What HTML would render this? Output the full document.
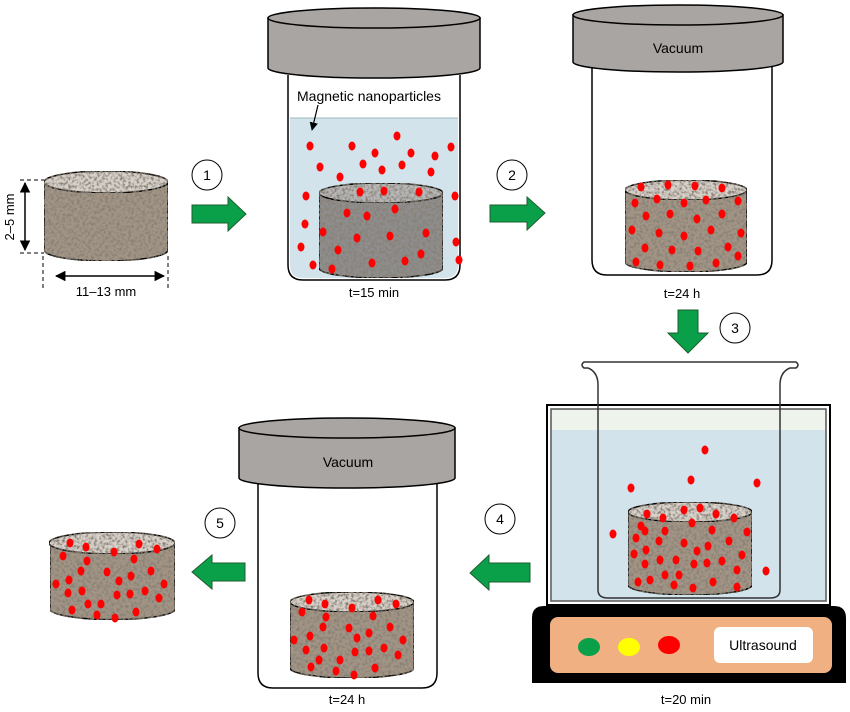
<!DOCTYPE html>
<html><head><meta charset="utf-8"><style>
html,body{margin:0;padding:0;background:#fff;}
svg{display:block;font-family:"Liberation Sans",Arial,sans-serif;}
.d{fill:#ff0000;}
</style></head><body>
<svg width="850" height="712" viewBox="0 0 850 712" xmlns="http://www.w3.org/2000/svg">
<defs>
<filter id="tex" x="0" y="0" width="100%" height="100%">
<feTurbulence type="fractalNoise" baseFrequency="0.35" numOctaves="3" seed="3" result="n"/>
<feColorMatrix in="n" type="matrix" values="0 0 0 0 0.25  0 0 0 0 0.22  0 0 0 0 0.18  0 0 0 -3 1.8" result="c"/>
<feComposite in="c" in2="SourceGraphic" operator="in" result="d"/>
<feMerge><feMergeNode in="SourceGraphic"/><feMergeNode in="d"/></feMerge>
</filter>
<marker id="ah" viewBox="0 0 10 10" refX="9" refY="5" markerWidth="7" markerHeight="7" orient="auto-start-reverse"><path d="M0,0 L10,5 L0,10 z" fill="#000"/></marker>
</defs>

<!-- Stage 0 cylinder -->
<g stroke="#000" stroke-width="1.5">
<path d="M44,182 L44,250 A62,11 0 0 0 168,250 L168,182 Z" fill="#a39586" filter="url(#tex)"/>
<ellipse cx="106" cy="182" rx="62" ry="11" fill="#d8d2cb" filter="url(#tex)"/>
</g>
<g stroke="#000" stroke-width="1" stroke-dasharray="4,3" fill="none">
<line x1="20" y1="180" x2="44" y2="180"/><line x1="20" y1="253" x2="44" y2="253"/>
<line x1="43" y1="256" x2="43" y2="288"/><line x1="168" y1="256" x2="168" y2="288"/>
</g>
<line x1="25" y1="183" x2="25" y2="250" stroke="#000" stroke-width="1.5" marker-start="url(#ah)" marker-end="url(#ah)"/>
<line x1="56" y1="276" x2="164" y2="276" stroke="#000" stroke-width="1.5" marker-start="url(#ah)" marker-end="url(#ah)"/>
<text x="14" y="217" font-size="13" text-anchor="middle" transform="rotate(-90 14 217)">2–5 mm</text>
<text x="106" y="296" font-size="13" text-anchor="middle">11–13 mm</text>

<!-- step circles -->
<g fill="#fff" stroke="#000" stroke-width="1">
<circle cx="207" cy="175" r="15"/><circle cx="512" cy="175" r="15"/><circle cx="735" cy="328" r="15"/><circle cx="500" cy="519" r="15"/><circle cx="220" cy="523" r="15"/>
</g>
<g font-size="14" text-anchor="middle">
<text x="207" y="180">1</text><text x="512" y="180">2</text><text x="735" y="333">3</text><text x="500" y="524">4</text><text x="220" y="528">5</text>
</g>

<!-- green arrows -->
<g fill="#0aa04a" stroke="#1f5e2e" stroke-width="1">
<path d="M192,205 L228,205 L228,197 L246,214 L228,231 L228,223 L192,223 Z"/>
<path d="M490,205 L527,205 L527,197 L545,213 L527,230 L527,222 L490,222 Z"/>
<path d="M678,310 L698,310 L698,333 L708,333 L688,353 L668,333 L678,333 Z"/>
<path d="M530,563 L489,563 L489,555 L470,573 L489,590 L489,582 L530,582 Z"/>
<path d="M245,563 L212,563 L212,555 L192,572 L212,589 L212,581 L245,581 Z"/>
</g>

<!-- Jar 1 -->
<path d="M288,75 L288,265 Q288,280 303,280 L445,280 Q460,280 460,265 L460,75" fill="#fff" stroke="#000" stroke-width="1.5"/>
<path d="M290,118 L458,118 L458,265 Q458,278 445,278 L303,278 Q290,278 290,265 Z" fill="#d2e3ec"/>
<line x1="290" y1="118" x2="458" y2="118" stroke="#9bb" stroke-width="1"/>
<path d="M268,18 L268,68 A106,10 0 0 0 480,68 L480,18 Z" fill="#a9a5a2" stroke="#000" stroke-width="1.5"/>
<ellipse cx="374" cy="18" rx="106" ry="10" fill="#a9a5a2" stroke="#000" stroke-width="1.5"/>
<text x="297" y="101" font-size="14">Magnetic nanoparticles</text>
<line x1="318" y1="105" x2="312" y2="130" stroke="#000" stroke-width="1.2" marker-end="url(#ah)"/>
<g stroke="#000" stroke-width="1.5">
<path d="M319,193 L319,268 A62,10 0 0 0 443,268 L443,193 Z" fill="#8e8e8e" filter="url(#tex)"/>
<ellipse cx="381" cy="193" rx="62" ry="10" fill="#b8b8b8" filter="url(#tex)"/>
</g>
<g class="d">
<ellipse cx="397" cy="136" rx="3.5" ry="4.5"/><ellipse cx="310" cy="146" rx="3.5" ry="4.5"/><ellipse cx="352" cy="146" rx="3.5" ry="4.5"/><ellipse cx="375" cy="153" rx="3.5" ry="4.5"/><ellipse cx="411" cy="153" rx="3.5" ry="4.5"/><ellipse cx="451" cy="147" rx="3.5" ry="4.5"/><ellipse cx="435" cy="156" rx="3.5" ry="4.5"/><ellipse cx="320" cy="167" rx="3.5" ry="4.5"/><ellipse cx="363" cy="164" rx="3.5" ry="4.5"/><ellipse cx="382" cy="170" rx="3.5" ry="4.5"/><ellipse cx="402" cy="165" rx="3.5" ry="4.5"/><ellipse cx="431" cy="172" rx="3.5" ry="4.5"/><ellipse cx="340" cy="177" rx="3.5" ry="4.5"/><ellipse cx="306" cy="196" rx="3.5" ry="4.5"/><ellipse cx="360" cy="192" rx="3.5" ry="4.5"/><ellipse cx="384" cy="191" rx="3.5" ry="4.5"/><ellipse cx="419" cy="192" rx="3.5" ry="4.5"/><ellipse cx="455" cy="196" rx="3.5" ry="4.5"/><ellipse cx="347" cy="213" rx="3.5" ry="4.5"/><ellipse cx="367" cy="216" rx="3.5" ry="4.5"/><ellipse cx="395" cy="209" rx="3.5" ry="4.5"/><ellipse cx="305" cy="224" rx="3.5" ry="4.5"/><ellipse cx="323" cy="232" rx="3.5" ry="4.5"/><ellipse cx="357" cy="238" rx="3.5" ry="4.5"/><ellipse cx="390" cy="236" rx="3.5" ry="4.5"/><ellipse cx="426" cy="233" rx="3.5" ry="4.5"/><ellipse cx="456" cy="242" rx="3.5" ry="4.5"/><ellipse cx="301" cy="247" rx="3.5" ry="4.5"/><ellipse cx="338" cy="250" rx="3.5" ry="4.5"/><ellipse cx="421" cy="254" rx="3.5" ry="4.5"/><ellipse cx="313" cy="265" rx="3.5" ry="4.5"/><ellipse cx="332" cy="269" rx="3.5" ry="4.5"/><ellipse cx="372" cy="263" rx="3.5" ry="4.5"/><ellipse cx="405" cy="261" rx="3.5" ry="4.5"/><ellipse cx="459" cy="260" rx="3.5" ry="4.5"/>
</g>
<text x="374" y="297" font-size="13" text-anchor="middle">t=15 min</text>

<!-- Jar 2 -->
<path d="M592,67 L592,260 Q592,275 607,275 L757,275 Q772,275 772,260 L772,67" fill="#fff" stroke="#000" stroke-width="1.5"/>
<path d="M573,15 L573,62 A105,10 0 0 0 783,62 L783,15 Z" fill="#a9a5a2" stroke="#000" stroke-width="1.5"/>
<ellipse cx="678" cy="15" rx="105" ry="10" fill="#a9a5a2" stroke="#000" stroke-width="1.5"/>
<text x="678" y="53" font-size="14" text-anchor="middle">Vacuum</text>
<g stroke="#000" stroke-width="1.5">
<path d="M625,190 L625,262 A61,10 0 0 0 747,262 L747,190 Z" fill="#a39586" filter="url(#tex)"/>
<ellipse cx="686" cy="190" rx="61" ry="10" fill="#d8d2cb" filter="url(#tex)"/>
</g>
<g class="d">
<ellipse cx="641" cy="187" rx="3.5" ry="4.5"/><ellipse cx="668" cy="185" rx="3.5" ry="4.5"/><ellipse cx="695" cy="186" rx="3.5" ry="4.5"/><ellipse cx="722" cy="188" rx="3.5" ry="4.5"/><ellipse cx="635" cy="203" rx="3.5" ry="4.5"/><ellipse cx="657" cy="199" rx="3.5" ry="4.5"/><ellipse cx="684" cy="203" rx="3.5" ry="4.5"/><ellipse cx="706" cy="200" rx="3.5" ry="4.5"/><ellipse cx="738" cy="201" rx="3.5" ry="4.5"/><ellipse cx="646" cy="216" rx="3.5" ry="4.5"/><ellipse cx="670" cy="214" rx="3.5" ry="4.5"/><ellipse cx="697" cy="219" rx="3.5" ry="4.5"/><ellipse cx="722" cy="214" rx="3.5" ry="4.5"/><ellipse cx="632" cy="230" rx="3.5" ry="4.5"/><ellipse cx="659" cy="233" rx="3.5" ry="4.5"/><ellipse cx="684" cy="236" rx="3.5" ry="4.5"/><ellipse cx="711" cy="230" rx="3.5" ry="4.5"/><ellipse cx="741" cy="233" rx="3.5" ry="4.5"/><ellipse cx="645" cy="248" rx="3.5" ry="4.5"/><ellipse cx="672" cy="250" rx="3.5" ry="4.5"/><ellipse cx="698" cy="251" rx="3.5" ry="4.5"/><ellipse cx="728" cy="247" rx="3.5" ry="4.5"/><ellipse cx="636" cy="262" rx="3.5" ry="4.5"/><ellipse cx="660" cy="265" rx="3.5" ry="4.5"/><ellipse cx="690" cy="266" rx="3.5" ry="4.5"/><ellipse cx="716" cy="263" rx="3.5" ry="4.5"/><ellipse cx="738" cy="256" rx="3.5" ry="4.5"/>
</g>
<text x="682" y="298" font-size="13" text-anchor="middle">t=24 h</text>

<!-- Ultrasound bath -->
<rect x="547" y="405" width="283" height="200" fill="#fff" stroke="#000" stroke-width="2"/>
<rect x="551" y="409" width="275" height="192" fill="#eef3ec" stroke="#555" stroke-width="1.5"/>
<rect x="552" y="430" width="273" height="170" fill="#d2e3ec"/>
<path d="M584,362 L796,362 Q800,365 796,368 L790,368 Q780,372 780,385 L780,590 Q780,598 770,598 L608,598 Q598,598 598,590 L598,385 Q598,372 588,368 L584,368 Q580,365 584,362 Z" fill="none" stroke="#333" stroke-width="1.5"/>
<g stroke="#000" stroke-width="1.5">
<path d="M628,512 L628,585 A62,10 0 0 0 752,585 L752,512 Z" fill="#a39586" filter="url(#tex)"/>
<ellipse cx="690" cy="512" rx="62" ry="10" fill="#d8d2cb" filter="url(#tex)"/>
</g>
<g class="d">
<ellipse cx="705" cy="450" rx="3.5" ry="4.5"/><ellipse cx="631" cy="488" rx="3.5" ry="4.5"/><ellipse cx="691" cy="480" rx="3.5" ry="4.5"/><ellipse cx="757" cy="483" rx="3.5" ry="4.5"/><ellipse cx="613" cy="534" rx="3.5" ry="4.5"/><ellipse cx="766" cy="571" rx="3.5" ry="4.5"/>
<ellipse cx="647" cy="514" rx="3.5" ry="4.5"/><ellipse cx="663" cy="518" rx="3.5" ry="4.5"/><ellipse cx="684" cy="510" rx="3.5" ry="4.5"/><ellipse cx="700" cy="508" rx="3.5" ry="4.5"/><ellipse cx="716" cy="514" rx="3.5" ry="4.5"/><ellipse cx="734" cy="518" rx="3.5" ry="4.5"/><ellipse cx="641" cy="526" rx="3.5" ry="4.5"/><ellipse cx="692" cy="523" rx="3.5" ry="4.5"/><ellipse cx="645" cy="531" rx="3.5" ry="4.5"/><ellipse cx="665" cy="531" rx="3.5" ry="4.5"/><ellipse cx="712" cy="530" rx="3.5" ry="4.5"/><ellipse cx="747" cy="532" rx="3.5" ry="4.5"/><ellipse cx="636" cy="538" rx="3.5" ry="4.5"/><ellipse cx="659" cy="541" rx="3.5" ry="4.5"/><ellipse cx="684" cy="543" rx="3.5" ry="4.5"/><ellipse cx="729" cy="541" rx="3.5" ry="4.5"/><ellipse cx="646" cy="550" rx="3.5" ry="4.5"/><ellipse cx="697" cy="551" rx="3.5" ry="4.5"/><ellipse cx="708" cy="546" rx="3.5" ry="4.5"/><ellipse cx="634" cy="554" rx="3.5" ry="4.5"/><ellipse cx="660" cy="560" rx="3.5" ry="4.5"/><ellipse cx="676" cy="560" rx="3.5" ry="4.5"/><ellipse cx="722" cy="561" rx="3.5" ry="4.5"/><ellipse cx="742" cy="555" rx="3.5" ry="4.5"/><ellipse cx="645" cy="564" rx="3.5" ry="4.5"/><ellipse cx="694" cy="564" rx="3.5" ry="4.5"/><ellipse cx="707" cy="563" rx="3.5" ry="4.5"/><ellipse cx="737" cy="570" rx="3.5" ry="4.5"/><ellipse cx="665" cy="575" rx="3.5" ry="4.5"/><ellipse cx="679" cy="575" rx="3.5" ry="4.5"/><ellipse cx="638" cy="582" rx="3.5" ry="4.5"/><ellipse cx="650" cy="580" rx="3.5" ry="4.5"/><ellipse cx="674" cy="585" rx="3.5" ry="4.5"/><ellipse cx="693" cy="588" rx="3.5" ry="4.5"/><ellipse cx="713" cy="582" rx="3.5" ry="4.5"/><ellipse cx="737" cy="587" rx="3.5" ry="4.5"/>
</g>
<path d="M544,606 L834,606 Q846,606 846,618 L846,683 L532,683 L532,618 Q532,606 544,606 Z" fill="#000"/>
<rect x="550" y="617" width="282" height="56" rx="8" fill="#f0b081"/>
<ellipse cx="589" cy="647" rx="11" ry="9" fill="#0aa04a"/>
<ellipse cx="629" cy="647" rx="11" ry="9" fill="#ffff00"/>
<ellipse cx="669" cy="645" rx="11" ry="9" fill="#ff0000"/>
<rect x="714" y="627" width="99" height="36" rx="6" fill="#fff"/>
<text x="763" y="650" font-size="14" text-anchor="middle">Ultrasound</text>
<text x="686" y="704" font-size="13" text-anchor="middle">t=20 min</text>

<!-- Jar 3 -->
<path d="M258,483 L258,673 Q258,688 273,688 L422,688 Q437,688 437,673 L437,483" fill="#fff" stroke="#000" stroke-width="1.5"/>
<path d="M239,428 L239,478 A108,10 0 0 0 455,478 L455,428 Z" fill="#a9a5a2" stroke="#000" stroke-width="1.5"/>
<ellipse cx="347" cy="428" rx="108" ry="10" fill="#a9a5a2" stroke="#000" stroke-width="1.5"/>
<text x="348" y="467" font-size="14" text-anchor="middle">Vacuum</text>
<g stroke="#000" stroke-width="1.5">
<path d="M290,602 L290,668 A62,10 0 0 0 414,668 L414,602 Z" fill="#a39586" filter="url(#tex)"/>
<ellipse cx="352" cy="602" rx="62" ry="10" fill="#d8d2cb" filter="url(#tex)"/>
</g>
<g class="d">
<ellipse cx="309" cy="600" rx="3.5" ry="4.5"/><ellipse cx="325" cy="604" rx="3.5" ry="4.5"/><ellipse cx="378" cy="600" rx="3.5" ry="4.5"/><ellipse cx="396" cy="604" rx="3.5" ry="4.5"/><ellipse cx="352" cy="608" rx="3.5" ry="4.5"/><ellipse cx="302" cy="612" rx="3.5" ry="4.5"/><ellipse cx="326" cy="617" rx="3.5" ry="4.5"/><ellipse cx="373" cy="616" rx="3.5" ry="4.5"/><ellipse cx="323" cy="627" rx="3.5" ry="4.5"/><ellipse cx="349" cy="628" rx="3.5" ry="4.5"/><ellipse cx="390" cy="627" rx="3.5" ry="4.5"/><ellipse cx="369" cy="633" rx="3.5" ry="4.5"/><ellipse cx="294" cy="640" rx="3.5" ry="4.5"/><ellipse cx="310" cy="636" rx="3.5" ry="4.5"/><ellipse cx="357" cy="638" rx="3.5" ry="4.5"/><ellipse cx="403" cy="640" rx="3.5" ry="4.5"/><ellipse cx="306" cy="650" rx="3.5" ry="4.5"/><ellipse cx="324" cy="648" rx="3.5" ry="4.5"/><ellipse cx="355" cy="652" rx="3.5" ry="4.5"/><ellipse cx="369" cy="651" rx="3.5" ry="4.5"/><ellipse cx="384" cy="648" rx="3.5" ry="4.5"/><ellipse cx="398" cy="655" rx="3.5" ry="4.5"/><ellipse cx="319" cy="660" rx="3.5" ry="4.5"/><ellipse cx="340" cy="660" rx="3.5" ry="4.5"/><ellipse cx="311" cy="667" rx="3.5" ry="4.5"/><ellipse cx="336" cy="671" rx="3.5" ry="4.5"/><ellipse cx="375" cy="668" rx="3.5" ry="4.5"/><ellipse cx="354" cy="675" rx="3.5" ry="4.5"/>
</g>
<text x="347" y="704" font-size="13" text-anchor="middle">t=24 h</text>

<!-- Final cylinder -->
<g stroke="#000" stroke-width="1.5">
<path d="M50,543 L50,610 A63,11 0 0 0 175,610 L175,543 Z" fill="#a39586" filter="url(#tex)"/>
<ellipse cx="112" cy="543" rx="63" ry="11" fill="#d8d2cb" filter="url(#tex)"/>
</g>
<g class="d">
<ellipse cx="70" cy="543" rx="3.5" ry="4.5"/><ellipse cx="86" cy="547" rx="3.5" ry="4.5"/><ellipse cx="139" cy="544" rx="3.5" ry="4.5"/><ellipse cx="157" cy="549" rx="3.5" ry="4.5"/><ellipse cx="114" cy="552" rx="3.5" ry="4.5"/><ellipse cx="63" cy="556" rx="3.5" ry="4.5"/><ellipse cx="87" cy="561" rx="3.5" ry="4.5"/><ellipse cx="134" cy="559" rx="3.5" ry="4.5"/><ellipse cx="81" cy="571" rx="3.5" ry="4.5"/><ellipse cx="107" cy="572" rx="3.5" ry="4.5"/><ellipse cx="151" cy="571" rx="3.5" ry="4.5"/><ellipse cx="131" cy="576" rx="3.5" ry="4.5"/><ellipse cx="56" cy="584" rx="3.5" ry="4.5"/><ellipse cx="69" cy="580" rx="3.5" ry="4.5"/><ellipse cx="119" cy="581" rx="3.5" ry="4.5"/><ellipse cx="164" cy="584" rx="3.5" ry="4.5"/><ellipse cx="68" cy="593" rx="3.5" ry="4.5"/><ellipse cx="82" cy="591" rx="3.5" ry="4.5"/><ellipse cx="117" cy="595" rx="3.5" ry="4.5"/><ellipse cx="130" cy="594" rx="3.5" ry="4.5"/><ellipse cx="145" cy="591" rx="3.5" ry="4.5"/><ellipse cx="159" cy="598" rx="3.5" ry="4.5"/><ellipse cx="88" cy="604" rx="3.5" ry="4.5"/><ellipse cx="101" cy="604" rx="3.5" ry="4.5"/><ellipse cx="72" cy="610" rx="3.5" ry="4.5"/><ellipse cx="97" cy="615" rx="3.5" ry="4.5"/><ellipse cx="136" cy="612" rx="3.5" ry="4.5"/><ellipse cx="115" cy="618" rx="3.5" ry="4.5"/>
</g>
</svg>
</body></html>
